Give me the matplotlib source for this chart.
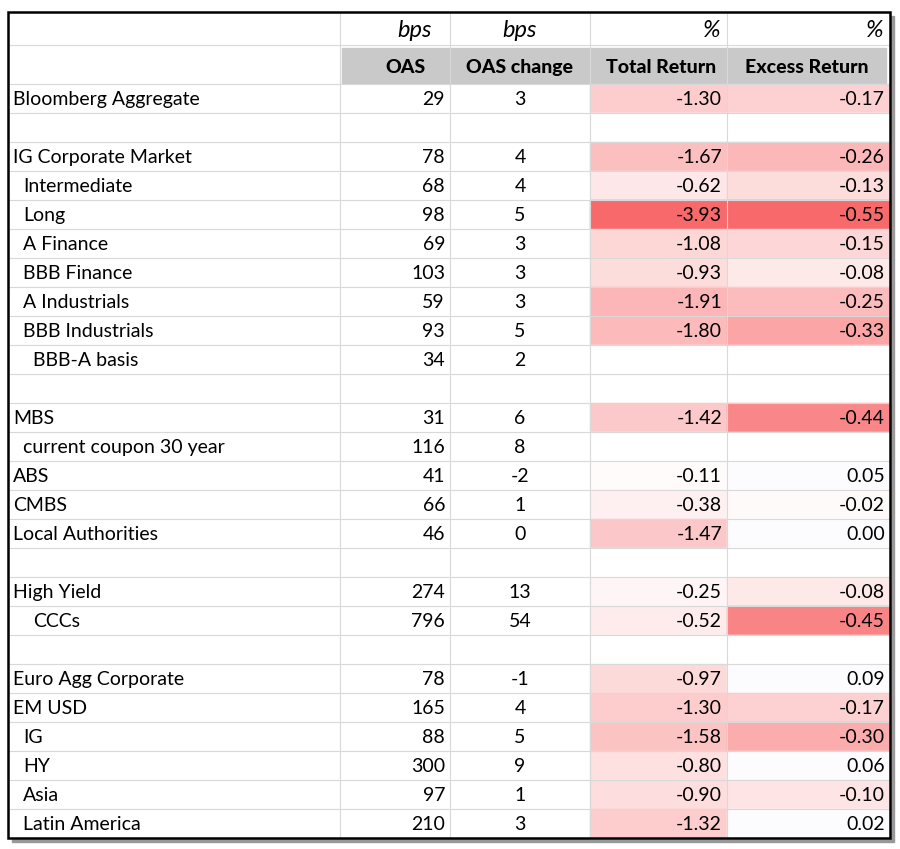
import numpy as np
import matplotlib.pyplot as plt
from matplotlib.patches import Rectangle
from matplotlib.colors import to_rgb

labels = ["Bloomberg Aggregate", "", "IG Corporate Market", " Intermediate", " Long", " A Finance",
          " BBB Finance", " A Industrials", " BBB Industrials", "  BBB-A basis", "", "MBS",
          " current coupon 30 year", "ABS", "CMBS", "Local Authorities", "", "High Yield", "  CCCs", "",
          "Euro Agg Corporate", "EM USD", " IG", " HY", " Asia", " Latin America"]
oas = [29, None, 78, 68, 98, 69, 103, 59, 93, 34, None, 31, 116, 41, 66, 46, None, 274, 796, None,
       78, 165, 88, 300, 97, 210]
oas_chg = [3, None, 4, 4, 5, 3, 3, 3, 5, 2, None, 6, 8, -2, 1, 0, None, 13, 54, None,
           -1, 4, 5, 9, 1, 3]
total_ret = [-1.30, None, -1.67, -0.62, -3.93, -1.08, -0.93, -1.91, -1.80, None, None, -1.42, None,
             -0.11, -0.38, -1.47, None, -0.25, -0.52, None, -0.97, -1.30, -1.58, -0.80, -0.90, -1.32]
excess_ret = [-0.17, None, -0.26, -0.13, -0.55, -0.15, -0.08, -0.25, -0.33, None, None, -0.44, None,
              0.05, -0.02, 0.00, None, -0.08, -0.45, None, 0.09, -0.17, -0.30, 0.06, -0.10, 0.02]
units = ["bps", "bps", "%", "%"]
headers = ["OAS", "OAS change", "Total Return", "Excess Return"]

font = "Lato"
fig = plt.figure(figsize=(9, 8.49), dpi=100)
ax = fig.add_axes([0, 0, 1, 1])
ax.set_xlim(0, 900)
ax.set_ylim(849, 0)
ax.axis("off")

cols = [8, 340, 450, 590, 727, 890]
top, row0, rh = 12, 84, 29.0
n = len(labels)
bottom = row0 + n * rh

red = np.array(to_rgb("#F8696B"))
white = np.ones(3)

def heat(v, vmin):
    if v is None:
        return "white"
    if v >= 0:
        return "#FCFBFD"
    t = v / vmin
    return tuple(white + (red - white) * t)

# shadow + background
ax.add_patch(Rectangle((cols[0] + 4, top + 4), cols[-1] - cols[0], bottom - top, color="#999999", zorder=0))
ax.add_patch(Rectangle((cols[0], top), cols[-1] - cols[0], bottom - top, color="white", zorder=1))
ax.add_patch(Rectangle((cols[1] + 2, 48), cols[-1] - cols[1] - 6, 35, color="#C9C9C9", zorder=2))

for i in range(n):
    y0 = row0 + i * rh
    for j, (vals, vmin) in enumerate([(total_ret, min(v for v in total_ret if v is not None)),
                                      (excess_ret, min(v for v in excess_ret if v is not None))]):
        c = heat(vals[i], vmin)
        ax.add_patch(Rectangle((cols[3 + j], y0), cols[4 + j] - cols[3 + j], rh, color=c, zorder=2))

# grid lines
for x in cols[1:-1]:
    ax.plot([x, x], [top, bottom], color="#D9D9D9", lw=0.8, zorder=3)
for y in [45, row0] + [row0 + i * rh for i in range(1, n)]:
    ax.plot([cols[0], cols[-1]], [y, y], color="#D9D9D9", lw=0.8, zorder=3)
ax.add_patch(Rectangle((cols[0], top), cols[-1] - cols[0], bottom - top, fill=False, ec="black", lw=1.8, zorder=4))

fs = 14
for j, u in enumerate(units):
    if j < 2:
        ax.text((cols[1 + j] + cols[2 + j]) / 2 + 20 * (j == 0), 30, u, style="italic", fontsize=17,
                ha="center", va="center", family=font, zorder=5)
    else:
        ax.text(cols[2 + j] - 6, 30, u, style="italic", fontsize=17, ha="right", va="center",
                family=font, zorder=5)
hx = [(cols[1] + cols[2]) / 2 + 10, (cols[2] + cols[3]) / 2, (cols[3] + cols[4]) / 2 + 3, (cols[4] + cols[5]) / 2 - 2]
for x, h in zip(hx, headers):
    ax.text(x, 67, h, fontsize=fs, weight="black", ha="center", va="center", family=font, zorder=5)

for i in range(n):
    yc = row0 + i * rh + rh / 2 + 1
    lab = labels[i]
    indent = (len(lab) - len(lab.lstrip())) * 10
    ax.text(cols[0] + 5 + indent, yc, lab.strip(), fontsize=fs, ha="left", va="center", family=font, zorder=5)
    if oas[i] is not None:
        ax.text(cols[2] - 5, yc, str(oas[i]), fontsize=fs, ha="right", va="center", family=font, zorder=5)
    if oas_chg[i] is not None:
        ax.text((cols[2] + cols[3]) / 2, yc, str(oas_chg[i]), fontsize=fs, ha="center", va="center", family=font, zorder=5)
    if total_ret[i] is not None:
        ax.text(cols[4] - 5, yc, f"{total_ret[i]:.2f}", fontsize=fs, ha="right", va="center", family=font, zorder=5)
    if excess_ret[i] is not None:
        ax.text(cols[5] - 5, yc, f"{excess_ret[i]:.2f}", fontsize=fs, ha="right", va="center", family=font, zorder=5)

fig.savefig("out.png", dpi=100, facecolor="white")
